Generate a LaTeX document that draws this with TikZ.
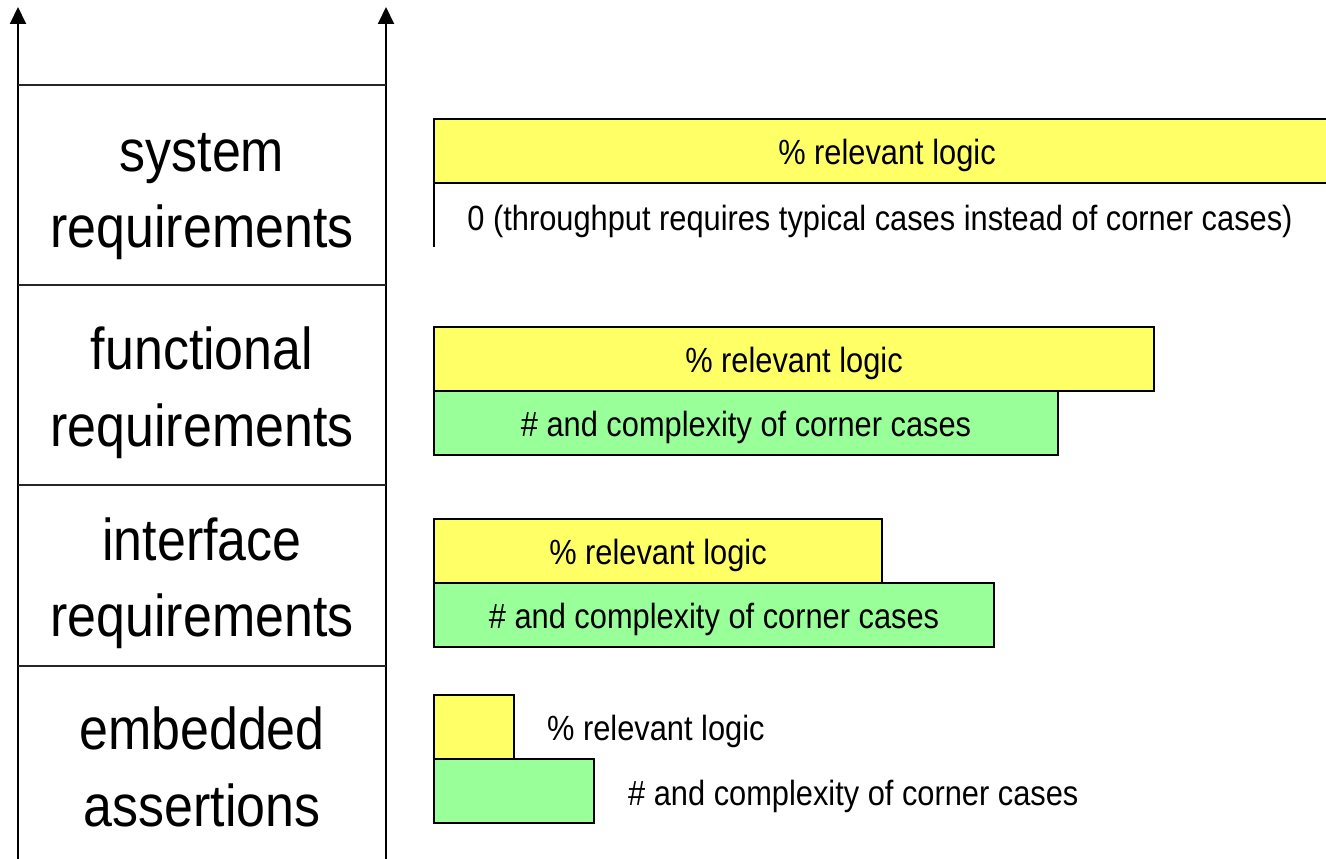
\documentclass[tikz,border=0pt]{standalone}
\usepackage{fontspec}
\setmainfont{Liberation Sans}
\newfontfamily\narrowsans[FakeStretch=0.88]{Liberation Sans}
\usetikzlibrary{arrows.meta}
\definecolor{baryellow}{HTML}{FFFF66}
\definecolor{bargreen}{HTML}{99FF99}
\tikzset{
  axisline/.style={line width=2pt, -{Triangle[length=17pt,width=16pt]}},
  divider/.style={line width=1.6pt, black!85},
  levellabel/.style={anchor=base, inner sep=0pt, font={\narrowsans\fontsize{59}{70}\selectfont}},
  bar/.style={draw, line width=2pt, anchor=north west, inner sep=0pt, outer sep=0pt,
    minimum height=64pt, text height=27pt, text depth=1pt,
    font={\narrowsans\fontsize{35}{42}\selectfont}},
  logicbar/.style={bar, fill=baryellow},
  casebar/.style={bar, fill=bargreen},
  note/.style={inner sep=0pt, font={\narrowsans\fontsize{35}{42}\selectfont}},
}
\begin{document}
\begin{tikzpicture}[x=1pt, y=-1pt]
  \useasboundingbox (0,0) rectangle (1326,859);
  \clip (0,0) rectangle (1326,859);

  % the two vertical axes of the level column
  \coordinate (Lbot) at (18,859);
  \coordinate (Ltop) at (18,7);
  \coordinate (Rbot) at (386,859);
  \coordinate (Rtop) at (386,7);
  \draw[axisline] (Lbot) -- (Ltop);
  \draw[axisline] (Rbot) -- (Rtop);

  % row separators
  \draw[divider] (18,85) -- (386,85);
  \draw[divider] (18,285) -- (386,285);
  \draw[divider] (18,485) -- (386,485);
  \draw[divider] (18,666) -- (386,666);

  % level names
  \node[levellabel] (sysA) at (202,171) {system};
  \node[levellabel] (sysB) at (202,247) {requirements};
  \node[levellabel] (funA) at (202,369) {functional};
  \node[levellabel] (funB) at (202,446) {requirements};
  \node[levellabel] (intA) at (202,560) {interface};
  \node[levellabel] (intB) at (202,636) {requirements};
  \node[levellabel] (embA) at (202,749) {embedded};
  \node[levellabel] (embB) at (202,826) {assertions};

  % system requirements
  \node[logicbar, minimum width=906pt] (sysLogic) at (434,119) {\% relevant logic};
  \coordinate (sysEnd) at (434,247);
  \draw[line width=2pt] (sysLogic.south west) -- (sysEnd);
  \node[note, anchor=base] (sysCases) at (880,230)
    {0 (throughput requires typical cases instead of corner cases)};

  % functional requirements
  \node[logicbar, minimum width=720pt] (funLogic) at (434,327) {\% relevant logic};
  \node[casebar, minimum width=624pt] (funCases) at (434,391) {\# and complexity of corner cases};

  % interface requirements
  \node[logicbar, minimum width=448pt] (intLogic) at (434,519) {\% relevant logic};
  \node[casebar, minimum width=560pt] (intCases) at (434,583) {\# and complexity of corner cases};

  % embedded assertions
  \node[logicbar, minimum width=80pt] (embLogic) at (434,695) {};
  \node[casebar, minimum width=160pt] (embCases) at (434,759) {};
  \node[note, anchor=base west] (embLogicText) at (547,740) {\% relevant logic};
  \node[note, anchor=base west] (embCasesText) at (628,805) {\# and complexity of corner cases};
\end{tikzpicture}
\end{document}
